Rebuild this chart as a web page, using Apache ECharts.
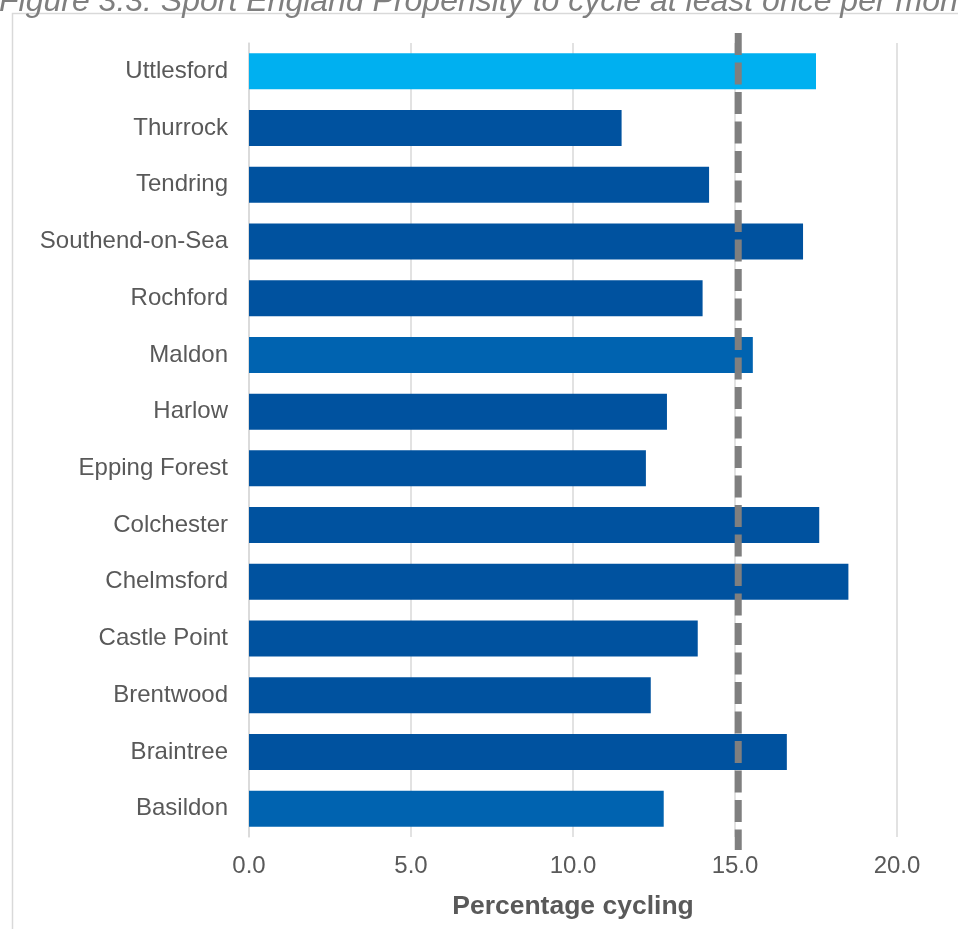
<!DOCTYPE html>
<html>
<head>
<meta charset="utf-8">
<script src="https://cdn.jsdelivr.net/npm/echarts@6/dist/echarts.min.js"></script>
<style>
html,body{margin:0;padding:0;background:#fff;}
#chart{width:958px;height:929px;}
</style>
</head>
<body>
<div id="chart"></div>
<script>
// Data (top to bottom as shown)
const categories = ['Uttlesford','Thurrock','Tendring','Southend-on-Sea','Rochford','Maldon','Harlow','Epping Forest','Colchester','Chelmsford','Castle Point','Brentwood','Braintree','Basildon'];
const values = [17.5, 11.5, 14.2, 17.1, 14.0, 15.55, 12.9, 12.25, 17.6, 18.5, 13.85, 12.4, 16.6, 12.8];
const averageValue = 15.1;
const xTicks = [0, 5, 10, 15, 20];
const titleText = 'Figure 3.3: Sport England Propensity to cycle at least once per month';
const axisTitle = 'Percentage cycling';

// Styles
const colorDefault = '#00529F';
const colorMid = '#0063B0';
const colorHighlight = '#00B0F0';
const colorByCategory = { 'Uttlesford': colorHighlight, 'Maldon': colorMid, 'Basildon': colorMid };

const chart = echarts.init(document.getElementById('chart'), null, { renderer: 'canvas' });
const font = '"Liberation Sans", Arial, sans-serif';

const option = {
  animation: false,
  backgroundColor: '#ffffff',
  graphic: [
    { type: 'rect', shape: { x: 12.5, y: 13.5, width: 1200, height: 1200 }, style: { fill: 'none', stroke: '#d9d9d9', lineWidth: 1.5 }, silent: true },
    { type: 'text', x: -1, y: -14, style: { text: titleText, fill: '#7f7f7f', font: 'italic 32px ' + font, align: 'left', verticalAlign: 'top' }, silent: true }
  ],
  grid: [
    { left: 249, right: 61, top: 43, bottom: 92 },
    { left: 249, right: 61, top: 33, bottom: 79 }
  ],
  xAxis: [
    {
      type: 'value', gridIndex: 0, min: xTicks[0], max: xTicks[xTicks.length - 1], interval: 5,
      axisLine: { show: false }, axisTick: { show: false },
      splitLine: { show: true, lineStyle: { color: '#d9d9d9', width: 1.5 } },
      axisLabel: { color: '#595959', fontFamily: font, fontSize: 24, margin: 17, formatter: v => v.toFixed(1) },
      name: axisTitle, nameLocation: 'middle', nameGap: 56,
      nameTextStyle: { color: '#595959', fontFamily: font, fontSize: 26.5, fontWeight: 'bold' }
    },
    { type: 'value', gridIndex: 1, min: xTicks[0], max: xTicks[xTicks.length - 1], show: false }
  ],
  yAxis: [
    {
      type: 'category', gridIndex: 0, data: categories, inverse: true,
      axisLine: { show: true, lineStyle: { color: '#d9d9d9', width: 1.5 } }, axisTick: { show: false },
      axisLabel: { color: '#595959', fontFamily: font, fontSize: 24, margin: 21 }
    },
    { type: 'value', gridIndex: 1, min: 0, max: 1, show: false }
  ],
  series: [
    {
      type: 'bar', xAxisIndex: 0, yAxisIndex: 0,
      barCategoryGap: '36.5%',
      data: values.map((v, i) => ({ value: v, itemStyle: { color: colorByCategory[categories[i]] || colorDefault } }))
    },
    {
      type: 'line', xAxisIndex: 1, yAxisIndex: 1, symbol: 'none', silent: true,
      data: [[averageValue, 1], [averageValue, 0]],
      lineStyle: { color: '#7f7f7f', width: 7, type: [22, 7.5], cap: 'butt' }
    }
  ]
};
chart.setOption(option);
</script>
</body>
</html>
